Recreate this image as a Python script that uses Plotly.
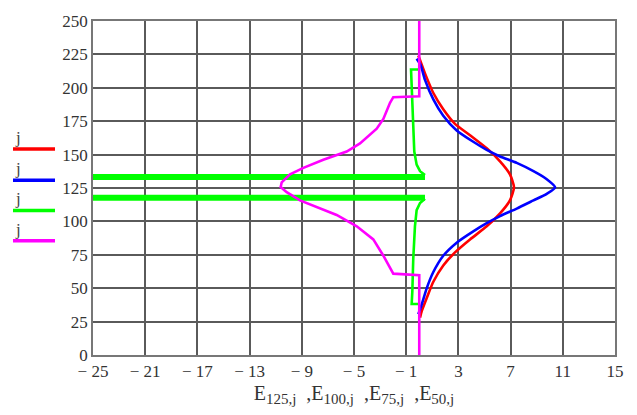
import plotly.graph_objects as go

# ---------------- data ----------------
# E125,j  (red)
e125_x = [0.06, 0.19, 0.57, 1.08, 1.84, 2.74, 3.89, 5.17, 6.19, 6.95, 7.26,
          6.95, 6.19, 5.17, 3.89, 2.74, 1.84, 1.08, 0.44, -0.07]
e125_y = [28, 32.9, 42.6, 54.8, 67, 76.8, 86.5, 96.3, 106, 115.7, 125.5,
          135.2, 145, 154.7, 164.5, 173, 184, 196.1, 210.8, 224.2]

# E100,j  (blue)
e100_x = [-0.07, 0.19, 0.57, 1.08, 1.84, 2.87, 4.14, 5.17, 6.19, 7.47, 8.75, 9.77, 10.41,
          9.77, 8.75, 7.47, 6.19, 5.17, 4.14, 2.87, 1.84, 1.08, 0.44, 0.11, -0.2]
e100_y = [30.5, 37.8, 49.9, 62.1, 74.3, 84.1, 92.6, 98.7, 104, 109.6, 115.7, 120.6, 125.5,
          131.6, 137.6, 143.8, 148.6, 153.5, 159.6, 168.1, 179.1, 191.3, 205.9, 216.9, 221.7]

# E75,j  (green) - curve part
e75_x = [-0.07, -0.58, -0.53, -0.46, -0.33, -0.2, 0.06, 0.44,
         None,
         0.44, 0.06, -0.2, -0.38, -0.46, -0.53, -0.63, -0.07]
e75_y = [38.2, 38.2, 47.5, 71.9, 96.3, 108.4, 113.8, 117,
         None,
         134.7, 137.6, 142.5, 152.3, 171.8, 196.1, 213.7, 213.7]
# E75,j  (green) - excursions to far negative values (off the left of the plot)
e75_band_x = [0.44, -40, None, 0.44, -40]
e75_band_y = [117.7, 117.7, None, 133.3, 133.3]

# E50,j  (magenta)
e50_x = [0, 0, -1.99, -2.75, -3.52, -4.79, -6.33, -7.86, -9.14, -10.16, -10.62,
         -10.54, -9.9, -8.88, -7.35, -5.56, -4.54, -3.26, -2.75, -2.24, -1.99, 0, 0]
e50_y = [0, 59.7, 60.9, 74.3, 86.5, 96.3, 104.8, 110.9, 115.7, 121.9, 125.7,
         129.2, 135.2, 140.1, 146.2, 152.3, 158.4, 169.4, 176.7, 188.8, 193, 193.7, 250]

series_colors = ["#ff0000", "#0000ff", "#00ff00", "#ff00ff"]
series_subs = ["125,j", "100,j", "75,j", "50,j"]
legend_labels = ["j", "j", "j", "j"]

x_ticks = [-25, -21, -17, -13, -9, -5, -1, 3, 7, 11, 15]
y_ticks = [0, 25, 50, 75, 100, 125, 150, 175, 200, 225, 250]

# ---------------- figure ----------------
FONT = "Liberation Serif"
fig = go.Figure()
fig.add_trace(go.Scatter(x=e125_x, y=e125_y, mode="lines", line=dict(color=series_colors[0], width=2.6, shape="spline", smoothing=0.6), showlegend=False))
fig.add_trace(go.Scatter(x=e100_x, y=e100_y, mode="lines", line=dict(color=series_colors[1], width=2.6, shape="spline", smoothing=0.6), showlegend=False))
fig.add_trace(go.Scatter(x=e75_x, y=e75_y, mode="lines", line=dict(color=series_colors[2], width=2.6), showlegend=False))
fig.add_trace(go.Scatter(x=e75_band_x, y=e75_band_y, mode="lines", line=dict(color=series_colors[2], width=6), showlegend=False))
fig.add_trace(go.Scatter(x=e50_x, y=e50_y, mode="lines", line=dict(color=series_colors[3], width=2.6), showlegend=False))

def fmt(v):
    return ("\u2212 " + str(abs(v))) if v < 0 else str(v)

axis_common = dict(showgrid=True, gridcolor="#5a5a5a", gridwidth=1.5, zeroline=False,
                   showline=True, linecolor="#777777", linewidth=1.5, mirror=True,
                   ticks="", tickfont=dict(family=FONT, size=17, color="#333333"))

title_text = "&nbsp;&nbsp;,".join(
    "E<sub><span style='font-size:15px'>%s</span></sub>" % s for s in series_subs)

fig.update_xaxes(range=[-25, 15], tickvals=x_ticks, ticktext=[fmt(v) for v in x_ticks],
                 title=dict(text=title_text, font=dict(family=FONT, size=20, color="#333333"), standoff=6),
                 **axis_common)
fig.update_yaxes(range=[0, 250], tickvals=y_ticks, ticktext=[str(v) for v in y_ticks], **axis_common)

# custom legend at left: "j" label above a colored line sample
plot_l, plot_w, plot_b, plot_h = 93, 522, 355, 342
leg_line_y = [144, 176, 207, 238]
for lbl, col, ly in zip(legend_labels, series_colors, leg_line_y):
    fig.add_shape(type="line", xref="paper", yref="paper",
                  x0=(13 - plot_l) / plot_w, x1=(55 - plot_l) / plot_w,
                  y0=(plot_b - ly) / plot_h, y1=(plot_b - ly) / plot_h,
                  line=dict(color=col, width=3.5))
    fig.add_annotation(xref="paper", yref="paper", x=(18 - plot_l) / plot_w, y=(plot_b - (ly - 12)) / plot_h,
                       text=lbl, showarrow=False, font=dict(family=FONT, size=17, color="#444444"),
                       xanchor="center", yanchor="middle")

fig.update_layout(width=637, height=415, margin=dict(l=93, r=22, t=13, b=60),
                  plot_bgcolor="white", paper_bgcolor="white", showlegend=False)

fig.write_html("out.html")
